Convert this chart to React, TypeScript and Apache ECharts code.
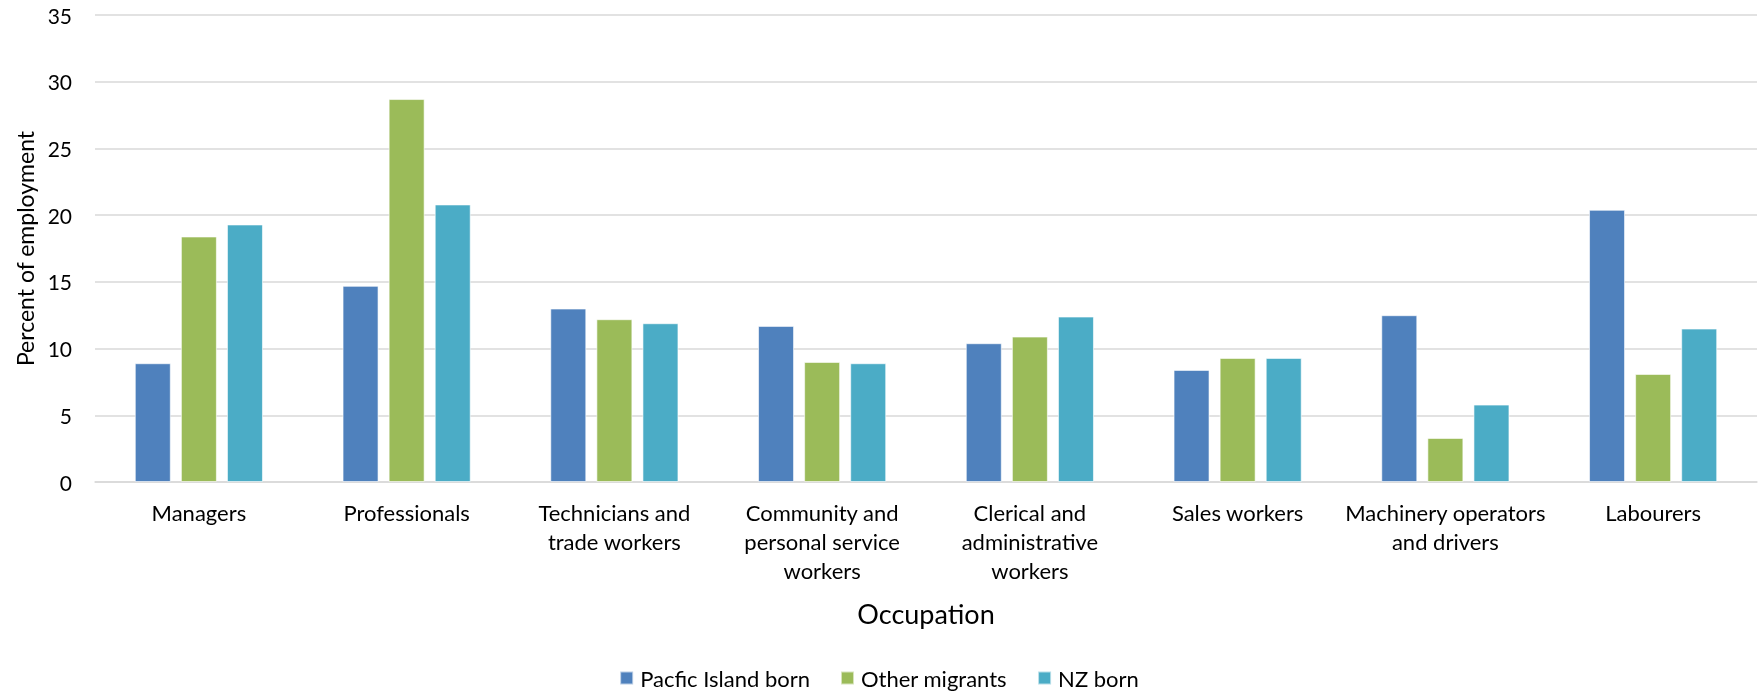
import React, { useEffect, useRef } from "react";
import * as echarts from "echarts";

const categories = [
  "Managers",
  "Professionals",
  "Technicians and\ntrade workers",
  "Community and\npersonal service\nworkers",
  "Clerical and\nadministrative\nworkers",
  "Sales workers",
  "Machinery operators\nand drivers",
  "Labourers",
];
const pacificIslandBorn = [8.9, 14.7, 13.0, 11.7, 10.4, 8.4, 12.5, 20.4];
const otherMigrants = [18.4, 28.7, 12.2, 9.0, 10.9, 9.3, 3.3, 8.1];
const nzBorn = [19.3, 20.8, 11.9, 8.9, 12.4, 9.3, 5.8, 11.5];
const seriesNames = ["Pacfic Island born", "Other migrants", "NZ born"];
const colors = ["#4F81BD", "#9BBB59", "#4BACC6"];

const FONT = "Lato, 'Open Sans', sans-serif";

export default function App() {
  const ref = useRef<HTMLDivElement>(null);
  useEffect(() => {
    if (!ref.current) return;
    const chart = echarts.init(ref.current, undefined, { renderer: "svg" });
    const data = [pacificIslandBorn, otherMigrants, nzBorn];
    chart.setOption({
      animation: false,
      textStyle: { fontFamily: FONT },
      color: colors,
      grid: { left: 95, right: 1, top: 15, bottom: 212, containLabel: false },
      legend: {
        left: "center",
        top: 662,
        itemWidth: 13,
        itemHeight: 13,
        itemGap: 30,
        icon: "rect",
        textStyle: { fontSize: 22, color: "#000", fontFamily: FONT, padding: [0, 0, 0, 2] },
        data: seriesNames,
      },
      xAxis: {
        type: "category",
        data: categories,
        name: "Occupation",
        nameLocation: "middle",
        nameGap: 118,
        nameTextStyle: { fontSize: 27, color: "#000", fontFamily: FONT },
        axisLine: { show: true, lineStyle: { color: "#d9d9d9", width: 1.5 } },
        axisTick: { show: false },
        axisLabel: {
          interval: 0,
          margin: 16,
          fontSize: 22,
          lineHeight: 29,
          color: "#000",
          fontFamily: FONT,
        },
      },
      yAxis: {
        type: "value",
        min: 0,
        max: 35,
        interval: 5,
        name: "Percent of employment",
        nameLocation: "middle",
        nameGap: 58,
        nameTextStyle: { fontSize: 23, color: "#000", fontFamily: FONT },
        axisLine: { show: false },
        axisTick: { show: false },
        axisLabel: { margin: 23, fontSize: 21, color: "#000", fontFamily: FONT },
        splitLine: { lineStyle: { color: "#d9d9d9", width: 1.5 } },
      },
      series: seriesNames.map((name, i) => ({
        name,
        type: "bar",
        data: data[i],
        barWidth: 36,
        barGap: "28%",
        itemStyle: { color: colors[i], borderColor: "rgba(255,255,255,0.6)", borderWidth: 1 },
      })),
    });
    return () => chart.dispose();
  }, []);
  return (
    <div
      ref={ref}
      style={{ position: "fixed", left: 0, top: 0, width: 1758, height: 694 }}
    />
  );
}
